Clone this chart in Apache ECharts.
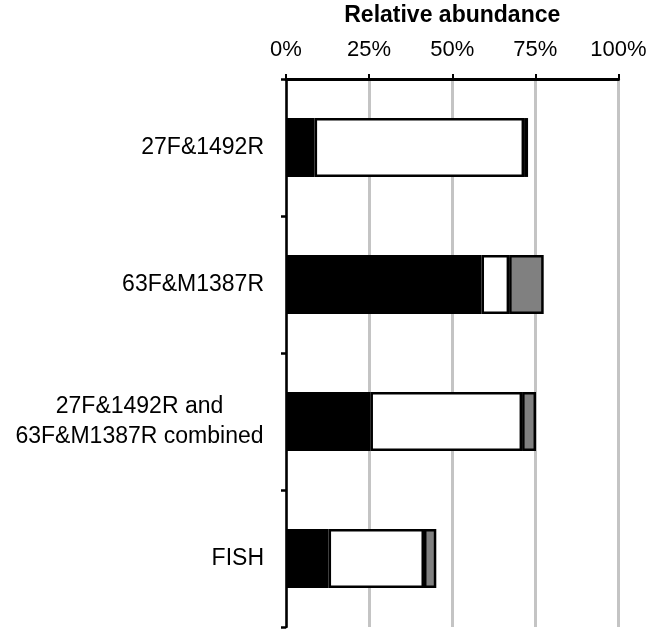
<!DOCTYPE html>
<html>
<head>
<meta charset="utf-8">
<script src="https://cdn.jsdelivr.net/npm/echarts@6/dist/echarts.min.js"></script>
<style>html,body{margin:0;padding:0;background:#fff;}#c{width:653px;height:636px;}</style>
</head>
<body>
<div id="c"></div>
<script>
const categories = ['27F&1492R', '63F&M1387R', '27F&1492R and\n63F&M1387R combined', 'FISH'];
const blackValues = [8.6, 58.8, 25.4, 12.8];
const whiteValues = [63.0, 8.3, 45.6, 28.7];
const grayValues = [1.2, 10.4, 4.2, 3.7];
const xTicks = [0, 25, 50, 75, 100];

const FONT = "'Liberation Sans', Arial, sans-serif";
const CAT_SIZE = 23;
const chart = echarts.init(document.getElementById('c'), null, {renderer: 'canvas'});

const mctx = document.createElement('canvas').getContext('2d');
mctx.font = CAT_SIZE + "px 'Liberation Sans', Arial, sans-serif";
function textW(s) { return Math.ceil(mctx.measureText(s).width); }

function barSeries(name, data, color) {
  return {
    name: name, type: 'bar', stack: 'total', data: data, barWidth: '43%',
    itemStyle: {color: color, borderColor: '#000', borderWidth: 2.5},
    animation: false
  };
}

let maxLine = 0;
categories.forEach(function (c) {
  if (c.indexOf('\n') >= 0) c.split('\n').forEach(function (s) { maxLine = Math.max(maxLine, textW(s)); });
});

chart.setOption({
  animation: false,
  backgroundColor: '#fff',
  grid: {left: 286, right: 34.5, top: 79, bottom: 9, containLabel: false, outerBoundsMode: 'none'},
  xAxis: {
    type: 'value', position: 'top', min: xTicks[0], max: xTicks[xTicks.length - 1], interval: 25,
    name: 'Relative abundance', nameLocation: 'middle', nameGap: 52, nameMoveOverlap: false,
    nameTextStyle: {fontFamily: FONT, fontSize: 23, fontWeight: 'bold', color: '#000'},
    axisLine: {show: true, lineStyle: {color: '#000', width: 3}},
    axisTick: {show: true, length: 5, lineStyle: {color: '#000', width: 2}},
    axisLabel: {formatter: '{value}%', fontFamily: FONT, fontSize: 22, color: '#000', margin: 18},
    splitLine: {show: true, lineStyle: {color: '#c4c4c4', width: 3}}
  },
  yAxis: {
    type: 'category', inverse: true, data: categories,
    axisLine: {show: true, lineStyle: {color: '#000', width: 2.5}},
    axisTick: {show: true, length: 5, lineStyle: {color: '#000', width: 2.5}},
    axisLabel: {
      fontFamily: FONT, fontSize: CAT_SIZE, color: '#000', margin: 22, align: 'right',
      formatter: function (v) {
        if (v.indexOf('\n') >= 0) {
          return v.split('\n').map(function (s) { return '{c|' + s + '}'; }).join('\n');
        }
        return v;
      },
      rich: {c: {fontFamily: FONT, fontSize: CAT_SIZE, color: '#000', width: maxLine, align: 'center', lineHeight: 30}}
    },
    splitLine: {show: false}
  },
  series: [
    barSeries('black', blackValues, '#000'),
    barSeries('white', whiteValues, '#fff'),
    barSeries('gray', grayValues, '#808080')
  ]
});
</script>
</body>
</html>
